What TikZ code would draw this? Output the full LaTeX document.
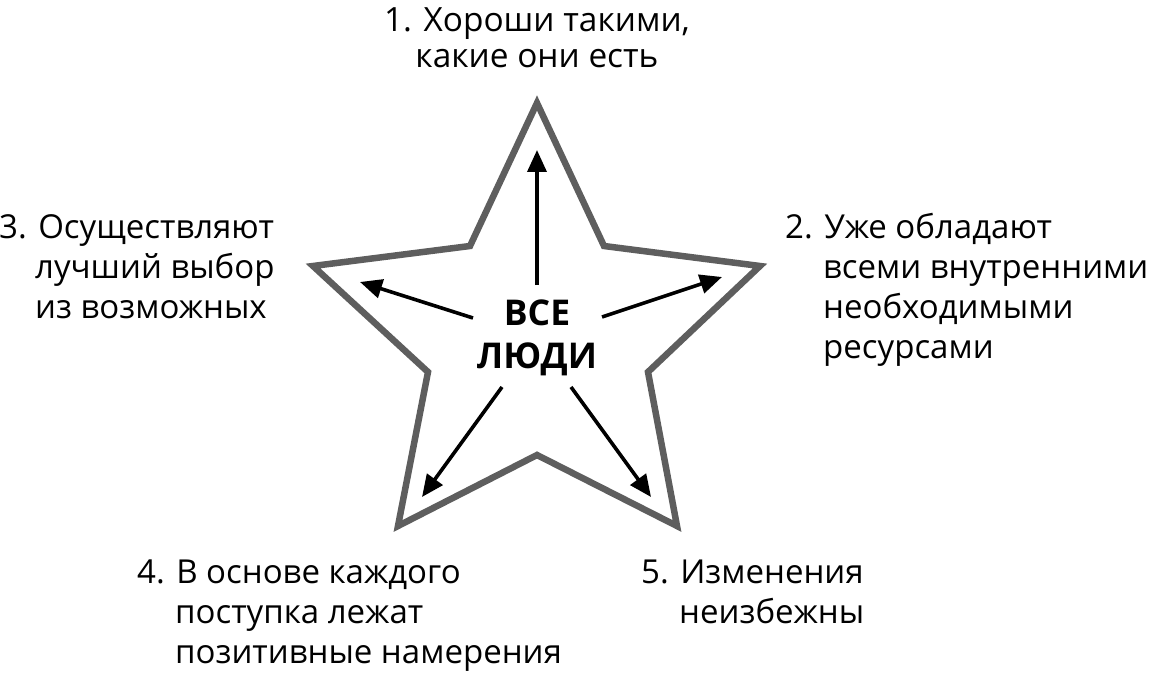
\documentclass[tikz,border=0pt]{standalone}
\usepackage{fontspec}
\setmainfont{Open Sans}
\usetikzlibrary{arrows.meta}
\newcommand{\ind}{\hspace*{38pt}}
\begin{document}
\begin{tikzpicture}[x=1pt,y=-1pt,
  lbl/.style={anchor=base west,inner sep=0pt,align=left,font=\fontsize{33}{40}\selectfont},
  starline/.style={draw=stargray,line width=6.5pt,line join=miter,miter limit=10},
  arr/.style={black,line width=3.6pt,-{Triangle[length=22pt,width=19pt]}}]
\definecolor{stargray}{HTML}{5E5E5E}
\useasboundingbox (0,0) rectangle (1149,674);
% star
\draw[starline] (537,103) -- (604,246) -- (760,266) -- (648,372) -- (677,526)
  -- (537,455) -- (398,526) -- (428,372) -- (313,266) -- (470,246) -- cycle;
% centre
\node[inner sep=0pt,anchor=base,align=center,font=\fontsize{35.5}{43}\selectfont\bfseries] (c) at (537,368) {ВСЕ\\ЛЮДИ};
% arrows
\coordinate (s1) at (537,285); \coordinate (t1) at (537,150);
\coordinate (s2) at (602,317); \coordinate (t2) at (722,277);
\coordinate (s3) at (473,318); \coordinate (t3) at (360,282);
\coordinate (s4) at (502,387); \coordinate (t4) at (422,497);
\coordinate (s5) at (571,387); \coordinate (t5) at (651,497);
\draw[arr] (s1) -- (t1);
\draw[arr] (s2) -- (t2);
\draw[arr] (s3) -- (t3);
\draw[arr] (s4) -- (t4);
\draw[arr] (s5) -- (t5);
% labels (anchored at the baseline of their last line)
\node[lbl,anchor=base,align=center,font=\fontsize{33.4}{36}\selectfont] (l1) at (537,68) {1. Хороши такими,\\какие они есть};
\node[lbl] (l2) at (785,358) {2. Уже обладают\\\ind всеми внутренними\\\ind необходимыми\\\ind ресурсами};
\node[lbl] (l3) at (-1,318) {3. Осуществляют\\\hspace*{36pt}лучший выбор\\\hspace*{36pt}из возможных};
\node[lbl] (l4) at (137,663) {4. В основе каждого\\\ind поступка лежат\\\ind позитивные намерения};
\node[lbl] (l5) at (641,623) {5. Изменения\\\ind неизбежны};
\end{tikzpicture}
\end{document}
